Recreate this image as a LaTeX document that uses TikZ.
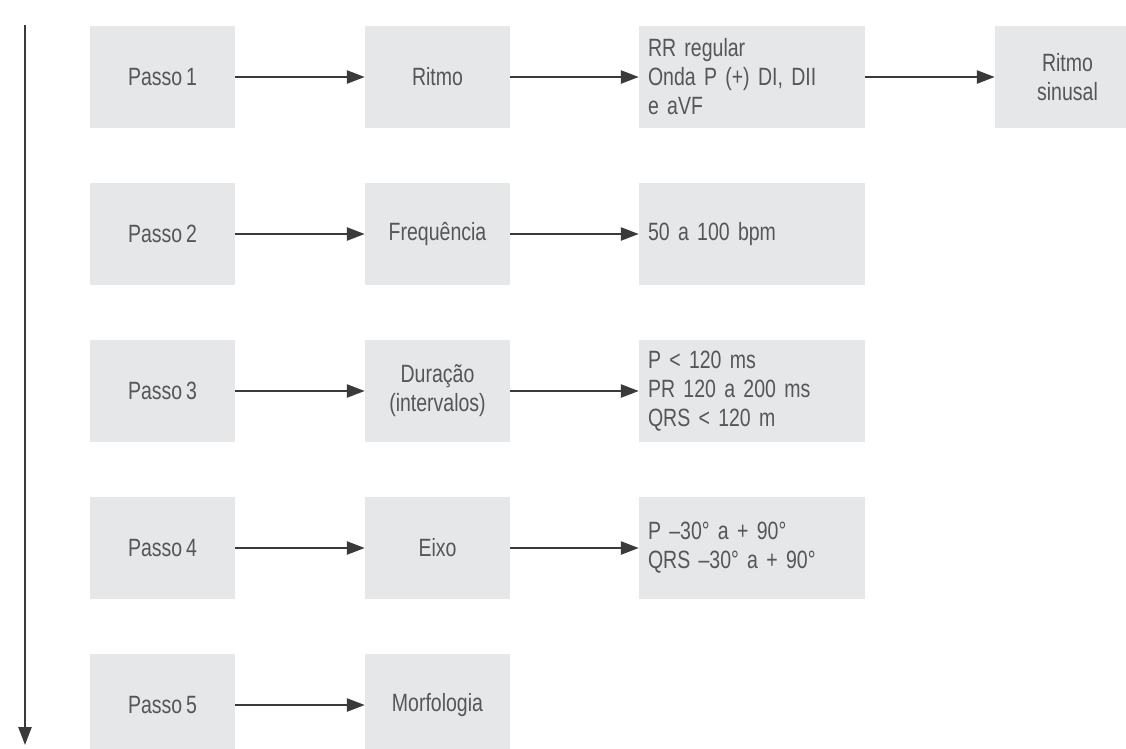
\documentclass[tikz,border=0pt]{standalone}
\usepackage{fontspec}
\setmainfont{Liberation Sans}[FakeStretch=0.78,WordSpace=0.7]
\usetikzlibrary{arrows.meta}
\definecolor{caixa}{HTML}{E6E7E8}
\definecolor{texto}{HTML}{555658}
\definecolor{cinzaseta}{HTML}{3A3A3A}
\tikzset{
  passo/.style={fill=caixa,text=texto,minimum width=145pt,minimum height=102pt,inner sep=0pt,align=center},
  achado/.style={passo,minimum width=226pt,text width=208pt,inner xsep=9pt,align=left},
  seta/.style={draw=cinzaseta,line width=2.5pt,-{Triangle[length=18pt,width=13pt]}}
}
\begin{document}
\begin{tikzpicture}[x=1pt,y=-1pt,font=\fontsize{25}{29}\selectfont]
\clip (0,0) rectangle (1126,748);
\foreach \i in {1,...,5}
  \node[passo] (p\i) at (162.5,{77+157*(\i-1)}) {Passo \i};
\node[passo] (c1) at (437.5,77) {Ritmo};
\node[passo] (c2) at (437.5,234) {Frequência};
\node[passo] (c3) at (437.5,391) {Duração\\(intervalos)};
\node[passo] (c4) at (437.5,548) {Eixo};
\node[passo] (c5) at (437.5,705) {Morfologia};
\node[achado] (d1) at (752,77) {RR regular\\Onda P (+) DI, DII\\e aVF};
\node[achado] (d2) at (752,234) {50 a 100 bpm};
\node[achado] (d3) at (752,391) {P < 120 ms\\PR 120 a 200 ms\\QRS < 120 m};
\node[achado] (d4) at (752,548) {P –30° a + 90°\\QRS –30° a + 90°};
\node[passo] (e1) at (1067.5,77) {Ritmo\\sinusal};
% eixo vertical
\coordinate (topo) at (25,25);
\coordinate (fim) at (25,745);
\draw[seta] (topo) -- (fim);
\foreach \i in {1,...,5}
  \draw[seta] (p\i) -- (c\i);
\foreach \i in {1,...,4}
  \draw[seta] (c\i) -- (d\i);
\draw[seta] (d1) -- (e1);
\end{tikzpicture}
\end{document}
